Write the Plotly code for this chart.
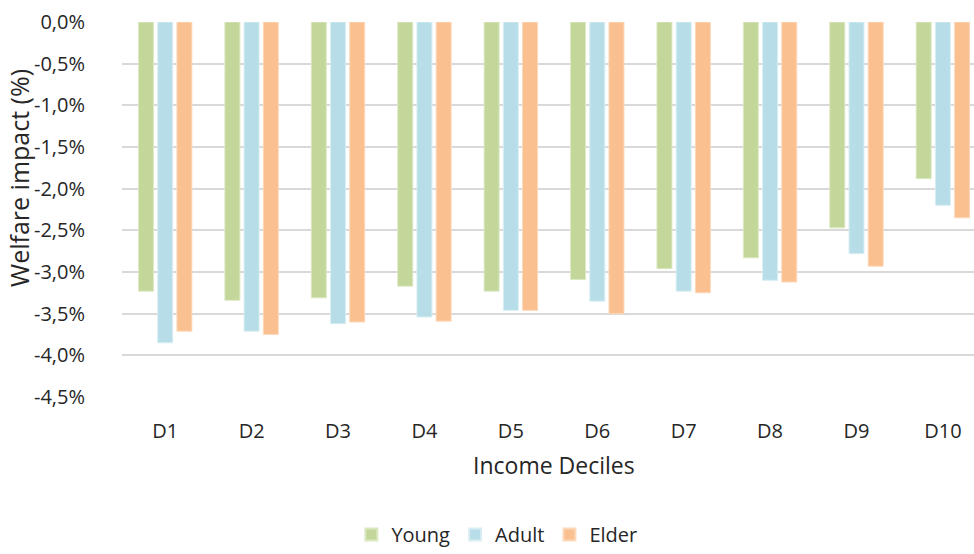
import plotly.graph_objects as go

# Welfare impact by income decile and age group (percent)
deciles = ["D1", "D2", "D3", "D4", "D5", "D6", "D7", "D8", "D9", "D10"]
young = [-3.23, -3.34, -3.31, -3.17, -3.23, -3.09, -2.96, -2.83, -2.47, -1.88]
adult = [-3.85, -3.71, -3.62, -3.54, -3.46, -3.35, -3.23, -3.10, -2.78, -2.20]
elder = [-3.71, -3.75, -3.60, -3.59, -3.46, -3.50, -3.25, -3.12, -2.93, -2.35]

y_ticks = [0, -0.5, -1.0, -1.5, -2.0, -2.5, -3.0, -3.5, -4.0, -4.5]
# comma decimal separator, plain hyphen for negatives
y_ticktext = [f"{v:.1f}%".replace(".", ",") for v in y_ticks]
y_ticktext[0] = "0,0%"

series = [
    ("Young", young, "#C4D79B", "#DCE8C2"),
    ("Adult", adult, "#B7DEE8", "#D8EEF3"),
    ("Elder", elder, "#FAC090", "#FCD9BB"),
]

FONT = "Open Sans"
TEXT = "#262626"

fig = go.Figure()
for name, vals, color, edge in series:
    fig.add_trace(go.Bar(
        x=deciles, y=vals, name=name,
        marker=dict(color=color, line=dict(color=edge, width=1)),
    ))

fig.update_layout(
    width=974, height=554,
    margin=dict(l=122, r=0, t=22, b=152),
    paper_bgcolor="white", plot_bgcolor="white",
    barmode="group", bargap=0.333, bargroupgap=0.22,
    font=dict(family=FONT, size=20, color=TEXT),
    showlegend=True,
    legend=dict(
        orientation="h", x=0.44, xanchor="center", y=-0.368, yanchor="middle",
        font=dict(family=FONT, size=20, color=TEXT),
        itemsizing="constant", traceorder="normal",
    ),
    xaxis=dict(
        type="category", range=[-0.5, 9.36],
        showgrid=False, zeroline=False, showline=False,
        ticks="outside", ticklen=16, tickcolor="rgba(0,0,0,0)",
        tickfont=dict(family=FONT, size=20, color=TEXT),
    ),
    yaxis=dict(
        range=[-4.5, 0], tickvals=y_ticks, ticktext=y_ticktext,
        showgrid=True, gridcolor="#D9D9D9", gridwidth=1.5,
        zeroline=False, showline=False,
        ticks="outside", ticklen=32, tickcolor="rgba(0,0,0,0)",
        tickfont=dict(family=FONT, size=20, color=TEXT),
    ),
    annotations=[
        dict(text="Welfare impact (%)", xref="paper", yref="paper",
             x=-0.121, y=0.584, xanchor="center", yanchor="middle",
             textangle=-90, showarrow=False,
             font=dict(family=FONT, size=25, color=TEXT)),
        dict(text="Income Deciles", xref="x", yref="paper",
             x=4.5, y=-0.18, xanchor="center", yanchor="middle",
             showarrow=False,
             font=dict(family=FONT, size=23, color=TEXT)),
    ],
)

fig.write_html("out.html")
